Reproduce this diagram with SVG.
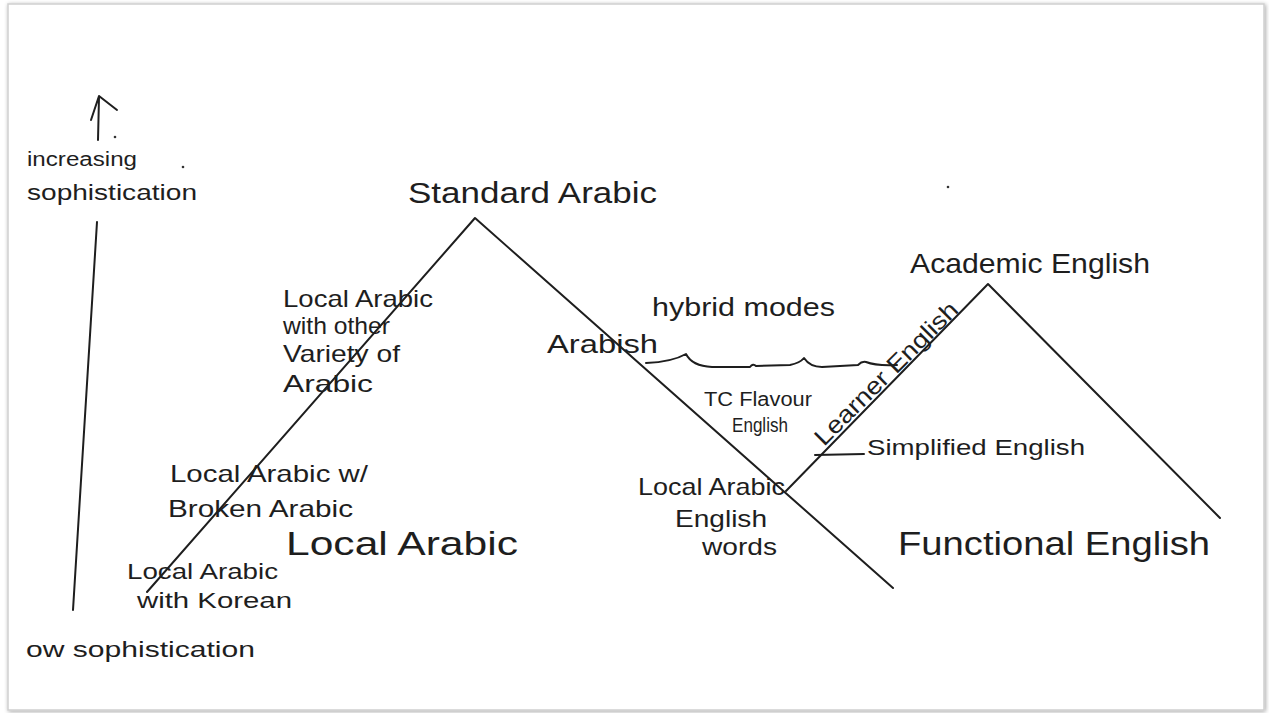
<svg xmlns="http://www.w3.org/2000/svg" width="1269" height="713" viewBox="0 0 1269 713">
  <defs>
    <filter id="shadow" x="-2%" y="-2%" width="104%" height="104%">
      <feGaussianBlur in="SourceAlpha" stdDeviation="2"/>
      <feOffset dx="1" dy="1"/>
      <feComponentTransfer><feFuncA type="linear" slope="0.35"/></feComponentTransfer>
      <feMerge><feMergeNode/><feMergeNode in="SourceGraphic"/></feMerge>
    </filter>
  </defs>
  <style>
    .ln { fill: none; stroke: #1e1e1e; stroke-width: 2; stroke-linecap: round; stroke-linejoin: round; }
    .t { font-family: "Liberation Sans", "DejaVu Sans", sans-serif; fill: #1e1e1e; }
    .s20 { font-size: 20px; }
    .s22 { font-size: 22px; }
    .s24 { font-size: 24px; }
    .s26 { font-size: 26px; }
    .s28 { font-size: 28px; }
    .s30 { font-size: 30px; }
    .s33 { font-size: 33px; }
    .dot { fill: #333; }
  </style>
  <rect x="0" y="0" width="1269" height="713" fill="#ffffff"/>
  <rect x="8" y="4" width="1256" height="706" fill="#ffffff" stroke="#cfcfcf" stroke-width="1.5" filter="url(#shadow)"/>

  <g id="connectors">
    <!-- vertical axis -->
    <path class="ln" d="M97,222 L73,610"/>
    <!-- up arrow -->
    <path class="ln" d="M98,140 L99,97 M91,120 L99,96 L117,110"/>
    <!-- Standard Arabic peak -->
    <path class="ln" d="M147,592 L475,218 L893,588"/>
    <!-- Academic English peak -->
    <path class="ln" d="M786,491 L988,284 L1220,518"/>
    <!-- hybrid modes wavy line -->
    <path class="ln" d="M646,363 Q672,362 686,354 Q692,366 712,367 L750,367 Q753,363 756,366 L790,365 Q800,363 804,358 Q810,367 822,367 L858,365 Q862,361 866,362 Q876,366 897,365"/>
    <!-- simplified English pointer -->
    <path class="ln" d="M815,455 L864,454"/>
  </g>

  <g id="axis-labels">
    <text class="t s20" x="27" y="166" textLength="110" lengthAdjust="spacingAndGlyphs">increasing</text>
    <text class="t s22" x="27" y="200" textLength="170" lengthAdjust="spacingAndGlyphs">sophistication</text>
    <text class="t s22" x="26" y="657" textLength="229" lengthAdjust="spacingAndGlyphs">ow sophistication</text>
  </g>

  <g id="node-standard-arabic">
    <text class="t s30" x="408" y="203" textLength="249" lengthAdjust="spacingAndGlyphs">Standard Arabic</text>
  </g>

  <g id="node-local-arabic-other-variety">
    <text class="t s24" x="283" y="307" textLength="150" lengthAdjust="spacingAndGlyphs">Local Arabic</text>
    <text class="t s24" x="283" y="334" textLength="107" lengthAdjust="spacingAndGlyphs">with other</text>
    <text class="t s24" x="283" y="362" textLength="117" lengthAdjust="spacingAndGlyphs">Variety of</text>
    <text class="t s24" x="283" y="392" textLength="90" lengthAdjust="spacingAndGlyphs">Arabic</text>
  </g>

  <g id="node-local-arabic-broken">
    <text class="t s24" x="170" y="482" textLength="198" lengthAdjust="spacingAndGlyphs">Local Arabic w/</text>
    <text class="t s24" x="168" y="517" textLength="185" lengthAdjust="spacingAndGlyphs">Broken Arabic</text>
  </g>

  <g id="node-local-arabic">
    <text class="t s33" x="286" y="555" textLength="232" lengthAdjust="spacingAndGlyphs">Local Arabic</text>
  </g>

  <g id="node-local-arabic-korean">
    <text class="t s22" x="127" y="579" textLength="151" lengthAdjust="spacingAndGlyphs">Local Arabic</text>
    <text class="t s22" x="137" y="608" textLength="155" lengthAdjust="spacingAndGlyphs">with Korean</text>
  </g>

  <g id="node-hybrid-modes">
    <text class="t s26" x="652" y="316" textLength="183" lengthAdjust="spacingAndGlyphs">hybrid modes</text>
  </g>

  <g id="node-arabish">
    <text class="t s26" x="547" y="353" textLength="111" lengthAdjust="spacingAndGlyphs">Arabish</text>
  </g>

  <g id="node-tc-flavour">
    <text class="t s20" x="704" y="406" textLength="108" lengthAdjust="spacingAndGlyphs">TC Flavour</text>
    <text class="t s20" x="732" y="432" textLength="56" lengthAdjust="spacingAndGlyphs">English</text>
  </g>

  <g id="node-learner-english">
    <text class="t s24" x="0" y="0" textLength="192" lengthAdjust="spacingAndGlyphs" transform="translate(824,447) rotate(-45)">Learner English</text>
  </g>

  <g id="node-academic-english">
    <text class="t s28" x="910" y="273" textLength="240" lengthAdjust="spacingAndGlyphs">Academic English</text>
  </g>

  <g id="node-simplified-english">
    <text class="t s22" x="867" y="455" textLength="218" lengthAdjust="spacingAndGlyphs">Simplified English</text>
  </g>

  <g id="node-local-arabic-english-words">
    <text class="t s24" x="638" y="495" textLength="147" lengthAdjust="spacingAndGlyphs">Local Arabic</text>
    <text class="t s24" x="675" y="527" textLength="92" lengthAdjust="spacingAndGlyphs">English</text>
    <text class="t s24" x="702" y="555" textLength="75" lengthAdjust="spacingAndGlyphs">words</text>
  </g>

  <g id="node-functional-english">
    <text class="t s33" x="898" y="555" textLength="312" lengthAdjust="spacingAndGlyphs">Functional  English</text>
  </g>

  <g id="stray-dots">
    <circle class="dot" cx="115" cy="137" r="1.3"/>
    <circle class="dot" cx="183" cy="167" r="1.3"/>
    <circle class="dot" cx="948" cy="187" r="1.3"/>
  </g>
</svg>
